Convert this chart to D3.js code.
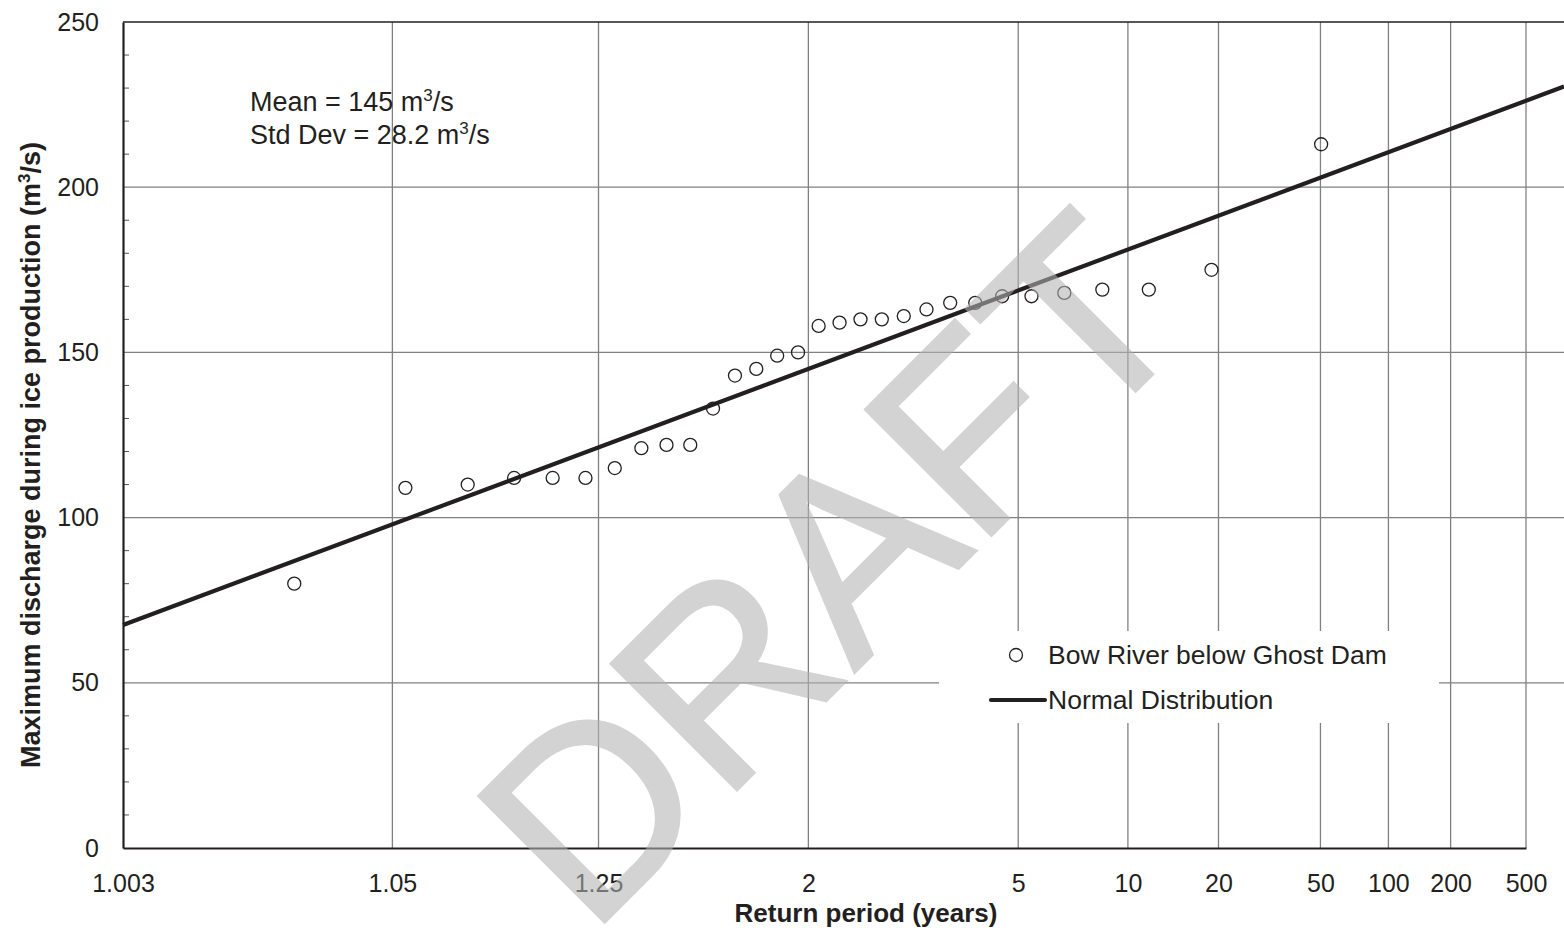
<!DOCTYPE html>
<html>
<head>
<meta charset="utf-8">
<script src="https://cdn.jsdelivr.net/npm/d3@7"></script>
<style>
  body { margin: 0; background: #fff; }
  text { font-family: "Liberation Sans", Arial, sans-serif; fill: #231f20; }
</style>
</head>
<body>
<svg id="chart" width="1564" height="928"></svg>
<script>
// annual maxima, sorted, with their plotting-position return periods
const discharge = [80, 109, 110, 112, 112, 112, 115, 121, 122, 122, 133, 143, 145, 149, 150,
  158, 159, 160, 160, 161, 163, 165, 165, 167, 167, 168, 169, 169, 175, 213]
const returnPeriod = [1.020, 1.056, 1.094, 1.135, 1.180, 1.228, 1.280, 1.336, 1.398, 1.466,
  1.541, 1.624, 1.716, 1.819, 1.936, 2.068, 2.221, 2.397, 2.603, 2.849,
  3.146, 3.512, 3.974, 4.576, 5.393, 6.565, 8.389, 11.62, 18.88, 50.33]

const xTicks = [1.003, 1.05, 1.25, 2, 5, 10, 20, 50, 100, 200, 500]
const yTicks = [0, 50, 100, 150, 200, 250]
const yMinor = [10, 20, 30, 40, 60, 70, 80, 90, 110, 120, 130, 140, 160, 170, 180, 190, 210, 220, 230, 240]

const fitMean = 145
const fitSd = 28.2

// inverse normal cdf (Acklam)
function probit(p) {
  const a = [-3.969683028665376e+01, 2.209460984245205e+02, -2.759285104469687e+02, 1.383577518672690e+02, -3.066479806614716e+01, 2.506628277459239e+00]
  const b = [-5.447609879822406e+01, 1.615858368580409e+02, -1.556989798598866e+02, 6.680131188771972e+01, -1.328068155288572e+01]
  const c = [-7.784894002430293e-03, -3.223964580411365e-01, -2.400758277161838e+00, -2.549732539343734e+00, 4.374664141464968e+00, 2.938163982698783e+00]
  const d = [7.784695709041462e-03, 3.224671290700398e-01, 2.445134137142996e+00, 3.754408661907416e+00]
  let q, r
  if (p < 0.02425) {
    q = Math.sqrt(-2 * Math.log(p))
    return (((((c[0]*q+c[1])*q+c[2])*q+c[3])*q+c[4])*q+c[5]) / ((((d[0]*q+d[1])*q+d[2])*q+d[3])*q+1)
  }
  if (p > 1 - 0.02425) {
    q = Math.sqrt(-2 * Math.log(1 - p))
    return -(((((c[0]*q+c[1])*q+c[2])*q+c[3])*q+c[4])*q+c[5]) / ((((d[0]*q+d[1])*q+d[2])*q+d[3])*q+1)
  }
  q = p - 0.5
  r = q * q
  return (((((a[0]*r+a[1])*r+a[2])*r+a[3])*r+a[4])*r+a[5])*q / (((((b[0]*r+b[1])*r+b[2])*r+b[3])*r+b[4])*r+1)
}
const zT = T => probit(1 - 1 / T)

const svg = d3.select("#chart")
const plotL = 123, plotT = 22, plotR = 1564, plotB = 848

const x = d3.scaleLinear().domain([zT(1.003), zT(500)]).range([plotL, 1526])
const y = d3.scaleLinear().domain([0, 250]).range([plotB, plotT])

// gridlines
svg.append("g")
  .selectAll("line")
  .data(xTicks.slice(1))
  .join("line")
  .attr("x1", d => x(zT(d))).attr("x2", d => x(zT(d)))
  .attr("y1", plotT).attr("y2", plotB)
  .attr("stroke", "#808080").attr("stroke-width", 1.3)

svg.append("g")
  .selectAll("line")
  .data(yTicks.slice(1, -1))
  .join("line")
  .attr("x1", plotL).attr("x2", plotR)
  .attr("y1", d => y(d)).attr("y2", d => y(d))
  .attr("stroke", "#808080").attr("stroke-width", 1.3)

// minor ticks on y axis
svg.append("g")
  .selectAll("line")
  .data(yMinor)
  .join("line")
  .attr("x1", plotL).attr("x2", plotL + 6)
  .attr("y1", d => y(d)).attr("y2", d => y(d))
  .attr("stroke", "#555").attr("stroke-width", 1)

// top border
svg.append("line")
  .attr("x1", plotL).attr("x2", plotR).attr("y1", plotT).attr("y2", plotT)
  .attr("stroke", "#231f20").attr("stroke-width", 1.5)

// legend background hides grid
svg.append("rect")
  .attr("x", 939).attr("y", 631).attr("width", 500).attr("height", 92)
  .attr("fill", "#fff")

// axes
const xAxis = svg.append("g")
  .attr("transform", `translate(0,${plotB})`)
  .call(d3.axisBottom(x).tickValues(xTicks.map(zT)).tickFormat((d, i) => xTicks[i]).tickSize(0).tickPadding(0))
xAxis.select(".domain").attr("stroke", "#231f20").attr("stroke-width", 2.2)
xAxis.selectAll("text").attr("font-size", 25).attr("y", 44).attr("dy", 0)

const yAxis = svg.append("g")
  .attr("transform", `translate(${plotL},0)`)
  .call(d3.axisLeft(y).tickValues(yTicks).tickSize(0).tickPadding(24))
yAxis.select(".domain").attr("stroke", "#231f20").attr("stroke-width", 2.2)
yAxis.selectAll("text").attr("font-size", 25)

// fitted normal distribution
const zRange = [x.invert(plotL), x.invert(plotR)]
svg.append("path")
  .datum(zRange)
  .attr("d", d3.line().x(d => x(d)).y(d => y(fitMean + fitSd * d)))
  .attr("stroke", "#231f20").attr("stroke-width", 4.2).attr("fill", "none")

// observed points
svg.append("g")
  .selectAll("circle")
  .data(discharge)
  .join("circle")
  .attr("cx", (d, i) => x(zT(returnPeriod[i])))
  .attr("cy", d => y(d))
  .attr("r", 6.5)
  .attr("fill", "none").attr("stroke", "#231f20").attr("stroke-width", 1.3)

// legend
svg.append("circle").attr("cx", 1016).attr("cy", 655).attr("r", 6.5)
  .attr("fill", "none").attr("stroke", "#231f20").attr("stroke-width", 1.3)
svg.append("text").attr("x", 1048).attr("y", 664).attr("font-size", 26.5).text("Bow River below Ghost Dam")
svg.append("line").attr("x1", 991).attr("x2", 1045).attr("y1", 700).attr("y2", 700)
  .attr("stroke", "#231f20").attr("stroke-width", 4.2).attr("stroke-linecap", "round")
svg.append("text").attr("x", 1048).attr("y", 709).attr("font-size", 26.5).text("Normal Distribution")

// stats note
const note = svg.append("text").attr("x", 250).attr("font-size", 27)
note.append("tspan").attr("x", 250).attr("y", 111).text("Mean = 145 m")
note.append("tspan").attr("font-size", 17).attr("dy", -10).text("3")
note.append("tspan").attr("dy", 10).text("/s")
const note2 = svg.append("text").attr("x", 250).attr("font-size", 27)
note2.append("tspan").attr("x", 250).attr("y", 144).text("Std Dev = 28.2 m")
note2.append("tspan").attr("font-size", 17).attr("dy", -10).text("3")
note2.append("tspan").attr("dy", 10).text("/s")

// axis titles
svg.append("text")
  .attr("x", 866).attr("y", 922)
  .attr("text-anchor", "middle").attr("font-size", 26).attr("font-weight", "bold")
  .text("Return period (years)")

const yt = svg.append("text")
  .attr("transform", "translate(40,455) rotate(-90)")
  .attr("text-anchor", "middle").attr("font-size", 27).attr("font-weight", "bold")
yt.append("tspan").text("Maximum discharge during ice production (m")
yt.append("tspan").attr("font-size", 17).attr("dy", -10).text("3")
yt.append("tspan").attr("dy", 10).text("/s)")

// watermark
svg.append("g").attr("opacity", 0.57)
  .append("text")
  .attr("transform", "translate(829,566) rotate(-45)")
  .attr("text-anchor", "middle").attr("dy", "0.36em")
  .attr("font-size", 259)
  .style("fill", "#b3b3b3").style("stroke", "#b3b3b3").style("stroke-width", 3)
  .text("DRAFT")
</script>
</body>
</html>
